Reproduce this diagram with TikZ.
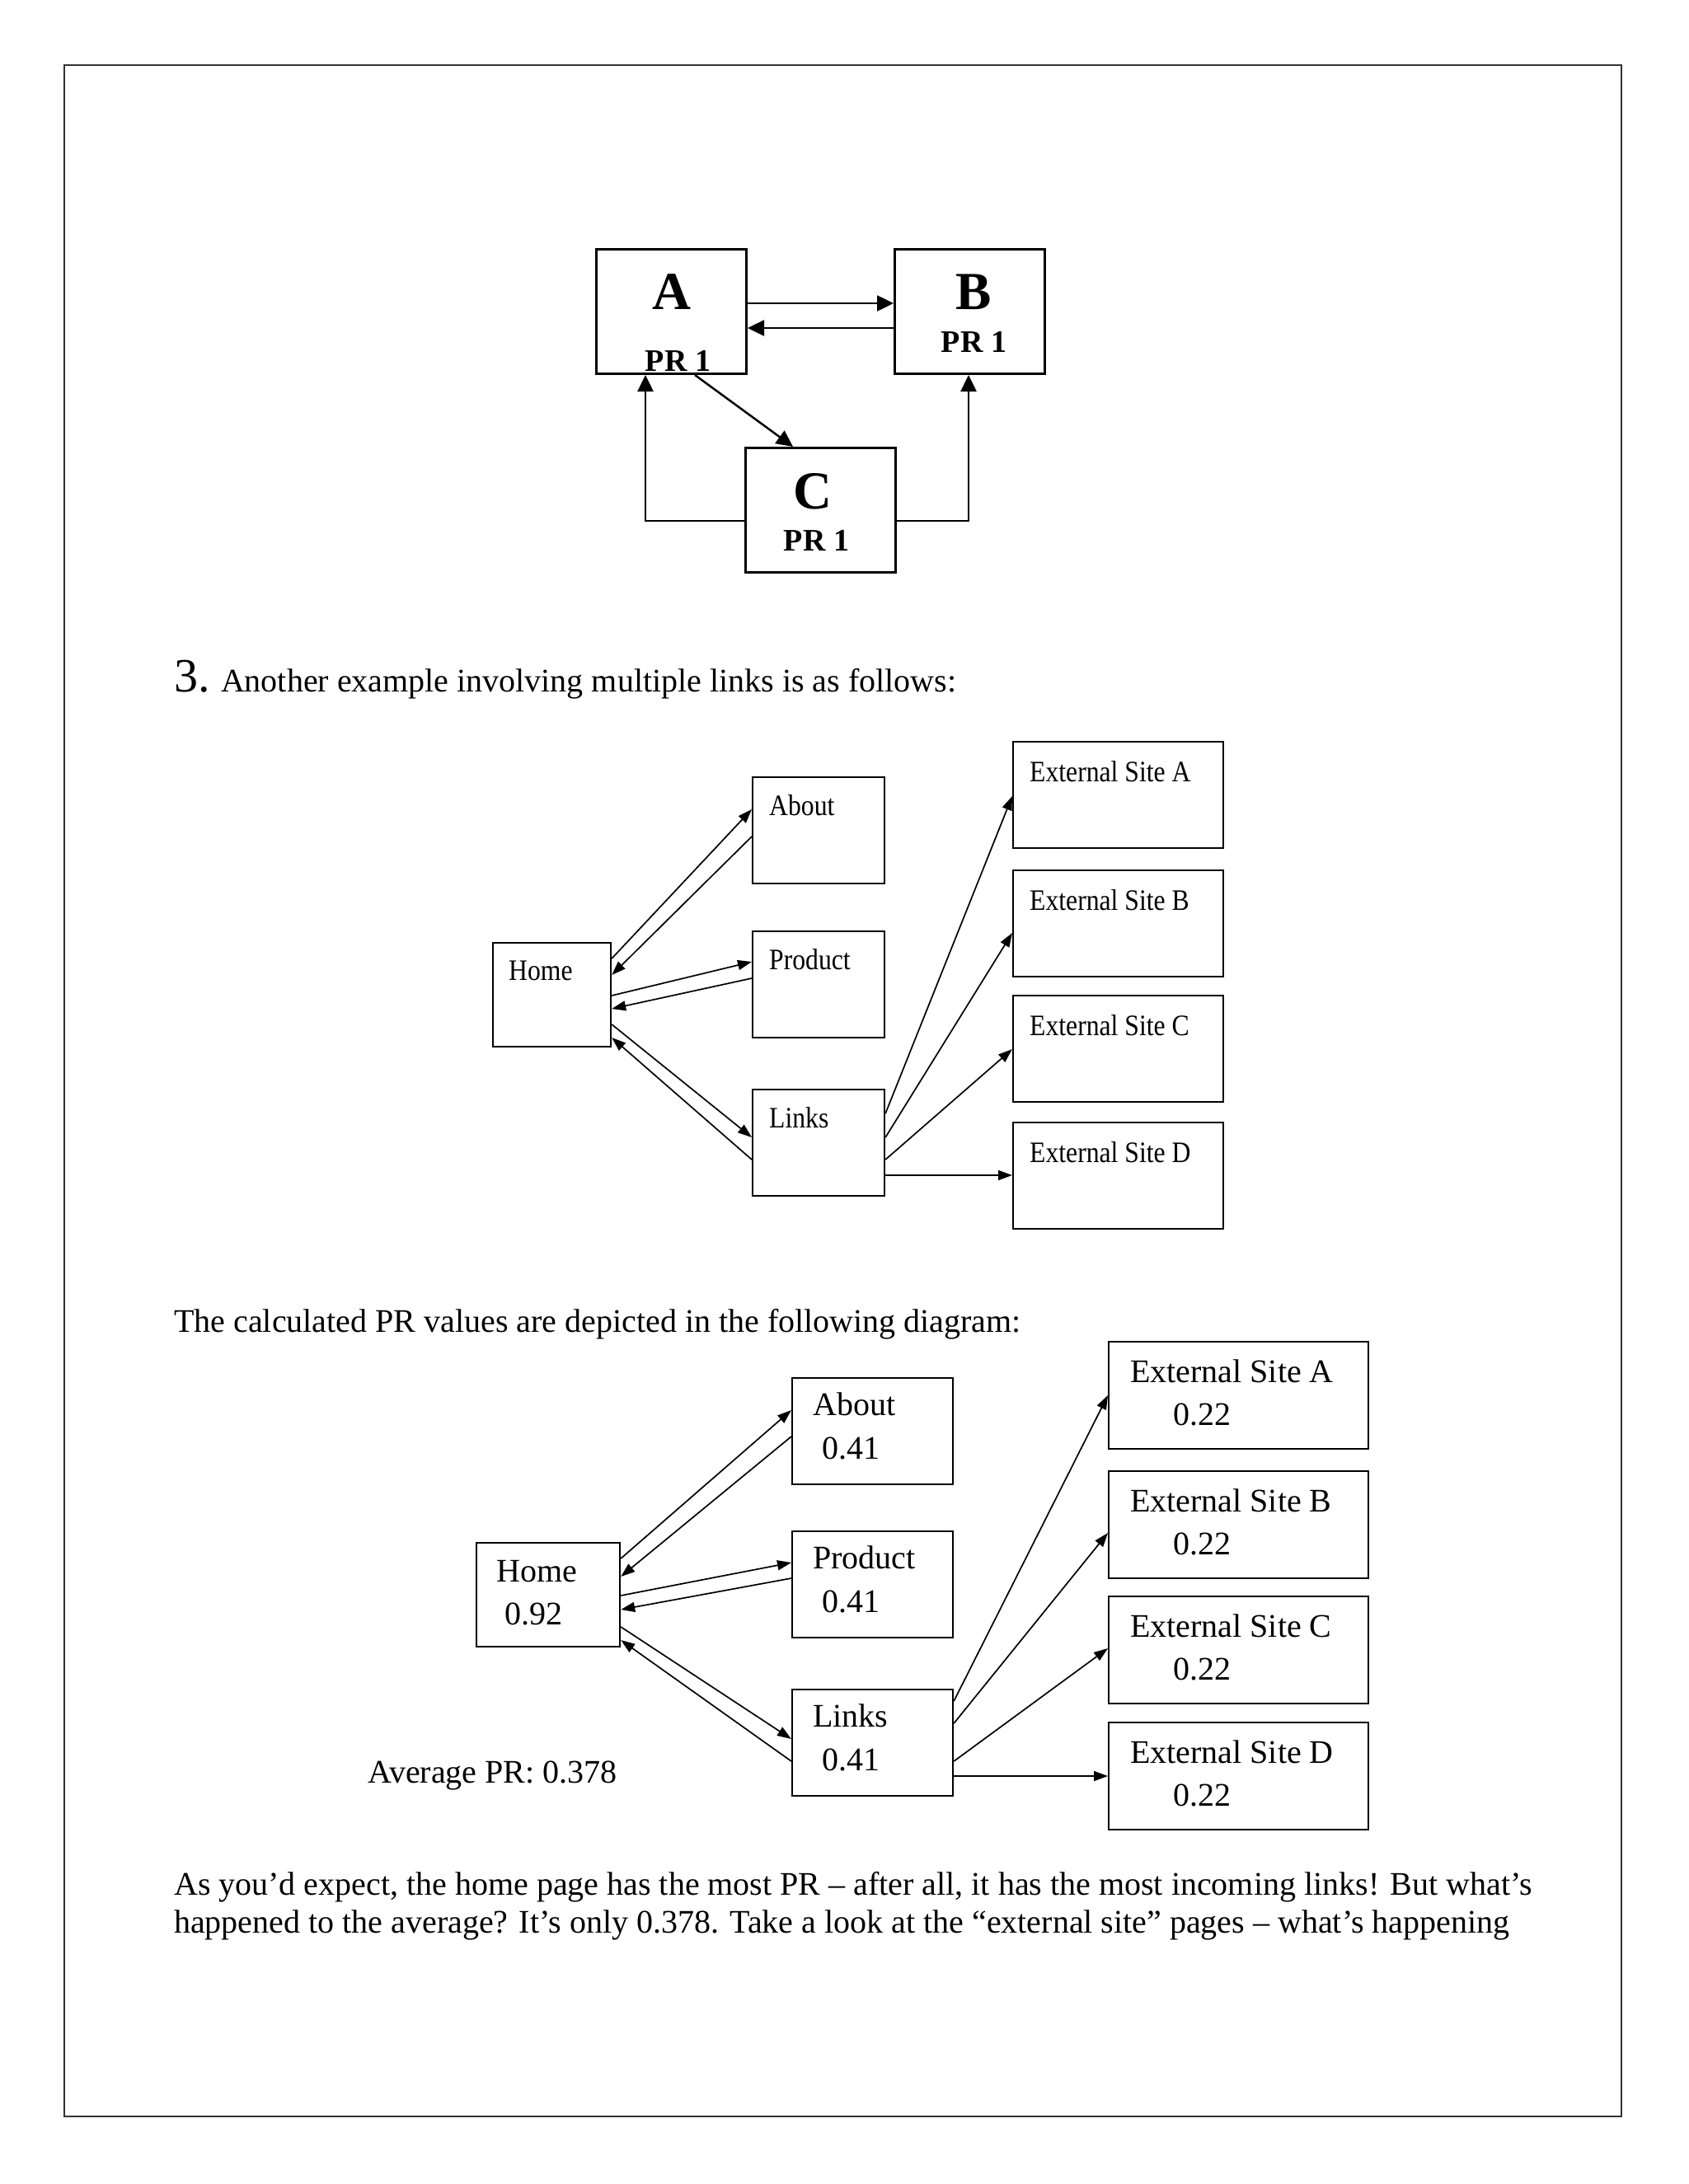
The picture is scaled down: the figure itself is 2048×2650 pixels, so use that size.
\documentclass[tikz,border=0pt]{standalone}
\usepackage{fontspec}
\setmainfont{Liberation Serif}
\newfontfamily\lblfont[FakeStretch=0.88]{Liberation Serif}
\usetikzlibrary{arrows.meta}
\begin{document}
\begin{tikzpicture}[x=1pt,y=-1pt,
  bigbox/.style={draw, line width=3pt, minimum width=182pt, minimum height=151pt, anchor=north west, inner sep=0pt},
  sbox/.style={draw, line width=2.2pt, anchor=north west, inner sep=0pt},
  bigarr/.style={line width=2.5pt, -{Triangle[length=20pt,width=19pt]}},
  arr/.style={line width=1.7pt, -{Triangle[length=17pt,width=12pt]}},
  bigletter/.style={anchor=base, inner sep=0pt, font=\bfseries\fontsize{65}{70}\selectfont},
  prlbl/.style={anchor=base, inner sep=0pt, font=\bfseries\fontsize{38}{42}\selectfont},
  lbltwo/.style={anchor=base west, inner sep=0pt, font=\lblfont\fontsize{36}{40}\selectfont},
  lblthree/.style={anchor=base west, inner sep=0pt, font=\fontsize{40}{44}\selectfont},
  para/.style={anchor=base west, inner sep=0pt, font=\fontsize{40}{46}\selectfont}
]
\useasboundingbox (0,0) rectangle (2048,2650);
\fill[white] (0,0) rectangle (2048,2650);
\draw[line width=2pt, black!80] (78,79) rectangle (1967,2568);

% ---------- Diagram 1 ----------
\node[bigbox] (A) at (722,301) {};
\node[bigbox] (B) at (1084,301) {};
\node[bigbox] (C) at (903,542) {};
\node[bigletter] (Al) at ([yshift=-74pt]A.north) {A};
\node[prlbl] (Ap) at ([xshift=8pt,yshift=-149pt]A.north) {PR 1};
\node[bigletter] (Bl) at ([xshift=5pt,yshift=-74pt]B.north) {B};
\node[prlbl] (Bp) at ([xshift=5pt,yshift=-126pt]B.north) {PR 1};
\node[bigletter] (Cl) at ([xshift=-10pt,yshift=-75pt]C.north) {C};
\node[prlbl] (Cp) at ([xshift=-5pt,yshift=-126pt]C.north) {PR 1};
\draw[bigarr] ([yshift=-67pt]A.north east) -- ([yshift=-67pt]B.north west);
\draw[bigarr] ([yshift=-97pt]B.north west) -- ([yshift=-97pt]A.north east);
\draw[bigarr] ([xshift=121pt]A.south west) -- ([xshift=59pt]C.north west);
\draw[bigarr] ([yshift=-90pt]C.north west) -| ([xshift=61pt]A.south west);
\draw[bigarr] ([yshift=-90pt]C.north east) -| ([xshift=91pt]B.south west);

\node[para] (t1) at (211,839) {{\fontsize{58}{60}\selectfont 3.} Another example involving multiple links is as follows:};

% ---------- Diagram 2 ----------
\node[sbox, minimum width=143pt, minimum height=126pt] (H2) at (597,1143) {};
\node[sbox, minimum width=160pt, minimum height=129pt] (Ab2) at (912,942) {};
\node[sbox, minimum width=160pt, minimum height=129pt] (Pr2) at (912,1129) {};
\node[sbox, minimum width=160pt, minimum height=129pt] (Li2) at (912,1321) {};
\node[sbox, minimum width=255pt, minimum height=129pt] (EA2) at (1228,899) {};
\node[sbox, minimum width=255pt, minimum height=129pt] (EB2) at (1228,1055) {};
\node[sbox, minimum width=255pt, minimum height=129pt] (EC2) at (1228,1207) {};
\node[sbox, minimum width=255pt, minimum height=129pt] (ED2) at (1228,1361) {};
\node[lbltwo] (H2l) at ([xshift=20pt,yshift=-46pt]H2.north west) {Home};
\node[lbltwo] (Ab2l) at ([xshift=21pt,yshift=-47pt]Ab2.north west) {About};
\node[lbltwo] (Pr2l) at ([xshift=21pt,yshift=-47pt]Pr2.north west) {Product};
\node[lbltwo] (Li2l) at ([xshift=21pt,yshift=-47pt]Li2.north west) {Links};
\node[lbltwo] (EA2l) at ([xshift=21pt,yshift=-49pt]EA2.north west) {External Site A};
\node[lbltwo] (EB2l) at ([xshift=21pt,yshift=-49pt]EB2.north west) {External Site B};
\node[lbltwo] (EC2l) at ([xshift=21pt,yshift=-49pt]EC2.north west) {External Site C};
\node[lbltwo] (ED2l) at ([xshift=21pt,yshift=-49pt]ED2.north west) {External Site D};
\draw[arr] ([yshift=-20pt]H2.north east) -- ([yshift=-40pt]Ab2.north west);
\draw[arr] ([yshift=-73pt]Ab2.north west) -- ([yshift=-40pt]H2.north east);
\draw[arr] ([yshift=-65pt]H2.north east) -- ([yshift=-38pt]Pr2.north west);
\draw[arr] ([yshift=-58pt]Pr2.north west) -- ([yshift=-81pt]H2.north east);
\draw[arr] ([yshift=-100pt]H2.north east) -- ([yshift=-59pt]Li2.north west);
\draw[arr] ([yshift=-86pt]Li2.north west) -- ([yshift=-116pt]H2.north east);
\draw[arr] ([yshift=-30pt]Li2.north east) -- ([yshift=-67pt]EA2.north west);
\draw[arr] ([yshift=-59pt]Li2.north east) -- ([yshift=-77pt]EB2.north west);
\draw[arr] ([yshift=-86pt]Li2.north east) -- ([yshift=-66pt]EC2.north west);
\draw[arr] ([yshift=-105pt]Li2.north east) -- ([yshift=-65pt]ED2.north west);

\node[para] (t2) at (211,1616) {The calculated PR values are depicted in the following diagram:};

% ---------- Diagram 3 ----------
\node[sbox, minimum width=174pt, minimum height=126pt] (H3) at (577,1871) {};
\node[sbox, minimum width=195pt, minimum height=129pt] (Ab3) at (960,1671) {};
\node[sbox, minimum width=195pt, minimum height=129pt] (Pr3) at (960,1857) {};
\node[sbox, minimum width=195pt, minimum height=129pt] (Li3) at (960,2049) {};
\node[sbox, minimum width=315pt, minimum height=130pt] (EA3) at (1344,1627) {};
\node[sbox, minimum width=315pt, minimum height=130pt] (EB3) at (1344,1784) {};
\node[sbox, minimum width=315pt, minimum height=130pt] (EC3) at (1344,1936) {};
\node[sbox, minimum width=315pt, minimum height=130pt] (ED3) at (1344,2089) {};
\node[lblthree] (H3l) at ([xshift=25pt,yshift=-48pt]H3.north west) {Home};
\node[lblthree] (H3v) at ([xshift=35pt,yshift=-100pt]H3.north west) {0.92};
\node[lblthree] (Ab3l) at ([xshift=26pt,yshift=-46pt]Ab3.north west) {About};
\node[lblthree] (Ab3v) at ([xshift=37pt,yshift=-99pt]Ab3.north west) {0.41};
\node[lblthree] (Pr3l) at ([xshift=26pt,yshift=-46pt]Pr3.north west) {Product};
\node[lblthree] (Pr3v) at ([xshift=37pt,yshift=-99pt]Pr3.north west) {0.41};
\node[lblthree] (Li3l) at ([xshift=26pt,yshift=-46pt]Li3.north west) {Links};
\node[lblthree] (Li3v) at ([xshift=37pt,yshift=-99pt]Li3.north west) {0.41};
\node[lblthree] (EA3l) at ([xshift=27pt,yshift=-50pt]EA3.north west) {External Site A};
\node[lblthree] (EA3v) at ([xshift=79pt,yshift=-102pt]EA3.north west) {0.22};
\node[lblthree] (EB3l) at ([xshift=27pt,yshift=-50pt]EB3.north west) {External Site B};
\node[lblthree] (EB3v) at ([xshift=79pt,yshift=-102pt]EB3.north west) {0.22};
\node[lblthree] (EC3l) at ([xshift=27pt,yshift=-50pt]EC3.north west) {External Site C};
\node[lblthree] (EC3v) at ([xshift=79pt,yshift=-102pt]EC3.north west) {0.22};
\node[lblthree] (ED3l) at ([xshift=27pt,yshift=-50pt]ED3.north west) {External Site D};
\node[lblthree] (ED3v) at ([xshift=79pt,yshift=-102pt]ED3.north west) {0.22};
\node[lblthree] (avg) at (446,2163) {Average PR: 0.378};
\draw[arr] ([yshift=-20pt]H3.north east) -- ([yshift=-40pt]Ab3.north west);
\draw[arr] ([yshift=-72pt]Ab3.north west) -- ([yshift=-42pt]H3.north east);
\draw[arr] ([yshift=-65pt]H3.north east) -- ([yshift=-39pt]Pr3.north west);
\draw[arr] ([yshift=-58pt]Pr3.north west) -- ([yshift=-82pt]H3.north east);
\draw[arr] ([yshift=-103pt]H3.north east) -- ([yshift=-61pt]Li3.north west);
\draw[arr] ([yshift=-88pt]Li3.north west) -- ([yshift=-119pt]H3.north east);
\draw[arr] ([yshift=-15pt]Li3.north east) -- ([yshift=-66pt]EA3.north west);
\draw[arr] ([yshift=-42pt]Li3.north east) -- ([yshift=-76pt]EB3.north west);
\draw[arr] ([yshift=-88pt]Li3.north east) -- ([yshift=-64pt]EC3.north west);
\draw[arr] ([yshift=-106pt]Li3.north east) -- ([yshift=-66pt]ED3.north west);

\node[para] (t3) at (211,2299) {As you’d expect, the home page has the most PR – after all, it has the most incoming links! But what’s};
\node[para] (t4) at (211,2345) {happened to the average? It’s only 0.378. Take a look at the “external site” pages – what’s happening};
\end{tikzpicture}
\end{document}
